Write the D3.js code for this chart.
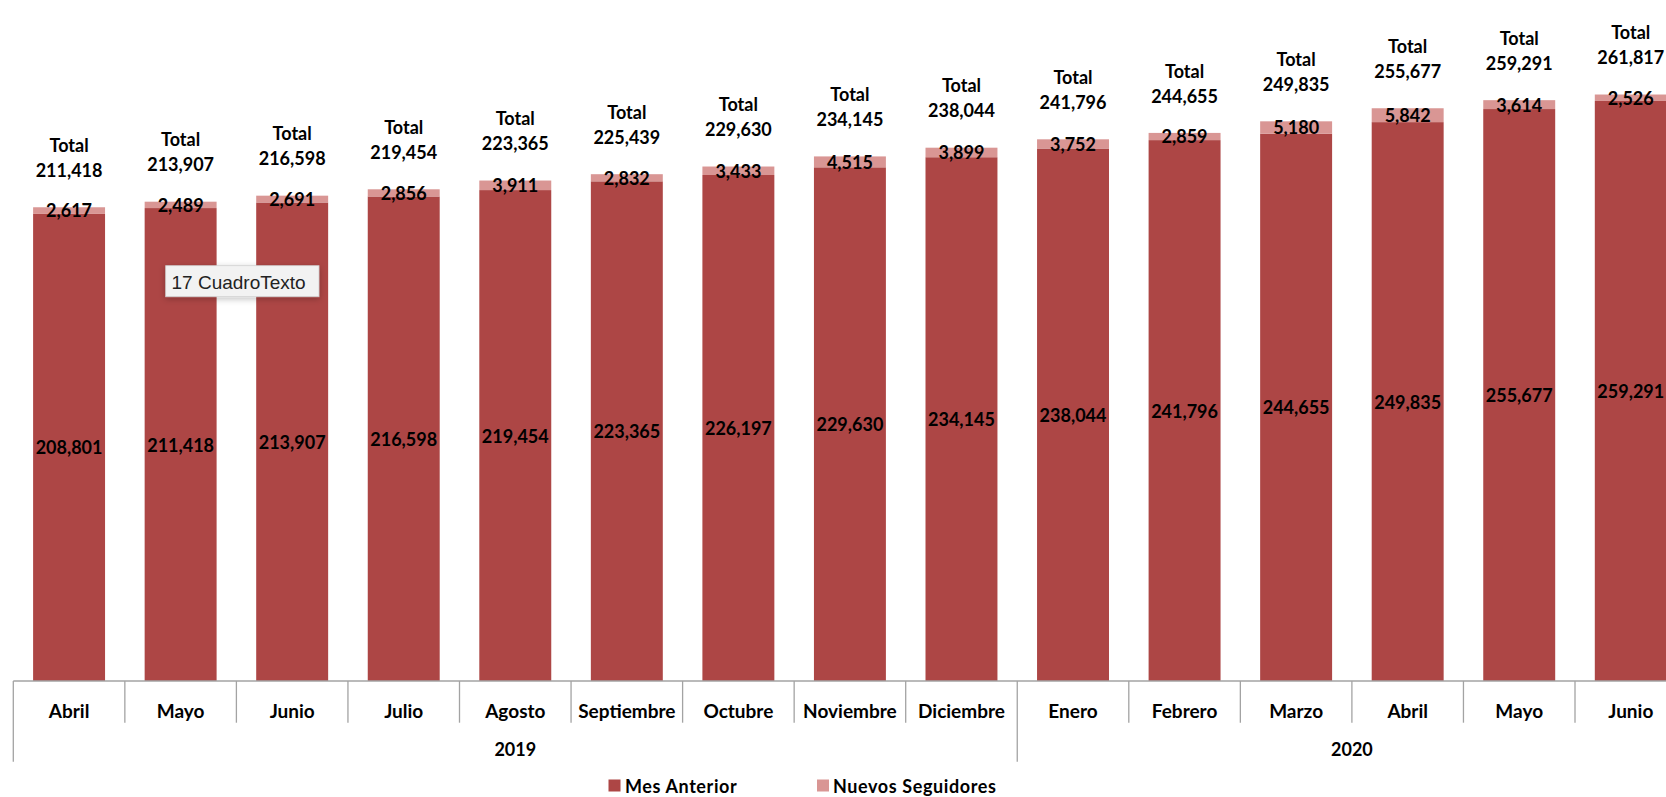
<!DOCTYPE html>
<html>
<head>
<meta charset="utf-8">
<script src="https://cdn.jsdelivr.net/npm/d3@7"></script>
<style>
  html, body { margin: 0; padding: 0; background: #fff; }
  svg { display: block; }
  text { font-family: Lato, "Open Sans", sans-serif; font-weight: 700; fill: #000; }
</style>
</head>
<body>
<svg id="chart" width="1666" height="797"></svg>
<script>
// ---- data ----
const months = ["Abril","Mayo","Junio","Julio","Agosto","Septiembre","Octubre","Noviembre","Diciembre","Enero","Febrero","Marzo","Abril","Mayo","Junio"];
const years = ["2019","2019","2019","2019","2019","2019","2019","2019","2019","2020","2020","2020","2020","2020","2020"];
const mesAnterior = [208801,211418,213907,216598,219454,223365,226197,229630,234145,238044,241796,244655,249835,255677,259291];
const nuevosSeguidores = [2617,2489,2691,2856,3911,2832,3433,4515,3899,3752,2859,5180,5842,3614,2526];
const totals = [211418,213907,216598,219454,223365,225439,229630,234145,238044,241796,244655,249835,255677,259291,261817];
const seriesNames = ["Mes Anterior","Nuevos Seguidores"];
const tooltipText = "17 CuadroTexto";

// ---- layout ----
const colDark = "#ad4645", colLight = "#d99694", axisCol = "#a3a3a3";
const svg = d3.select("#chart");
const x0 = 13.3, step = 111.55, baseY = 681;
const idx = d3.range(months.length);
const x = d3.scaleBand().domain(idx).range([x0, x0 + step * months.length])
  .paddingInner(0.355).paddingOuter(0.1775);
const y = d3.scaleLinear().domain([0, 300000]).range([baseY, baseY - 671.1]);
const fmt = d3.format(",");

// defs
const defs = svg.append("defs");
const f = defs.append("filter").attr("id","sh").attr("x","-20%").attr("y","-40%").attr("width","140%").attr("height","200%");
f.append("feDropShadow").attr("dx",0).attr("dy",2).attr("stdDeviation",3).attr("flood-color","#000").attr("flood-opacity",0.25);

const g = svg.append("g");

// bars
const stack = idx.map(i => ({i, a: mesAnterior[i], n: nuevosSeguidores[i]}));
g.selectAll("rect.dark").data(stack).join("rect").attr("class","dark")
  .attr("x", d => x(d.i)).attr("width", x.bandwidth())
  .attr("y", d => y(d.a)).attr("height", d => y(0) - y(d.a))
  .attr("fill", colDark);
g.selectAll("rect.light").data(stack).join("rect").attr("class","light")
  .attr("x", d => x(d.i)).attr("width", x.bandwidth())
  .attr("y", d => y(d.a + d.n) - 0.8).attr("height", d => y(d.a) - y(d.a + d.n) + 0.8)
  .attr("fill", colLight);

const cx = i => x(i) + x.bandwidth() / 2;

// mes anterior labels
g.selectAll("text.ma").data(stack).join("text").attr("class","ma")
  .attr("x", d => cx(d.i)).attr("y", d => (y(0) + y(d.a)) / 2)
  .attr("text-anchor","middle").attr("dominant-baseline","central")
  .style("font-size","18px").text(d => fmt(d.a));

// nuevos labels
g.selectAll("text.nv").data(stack).join("text").attr("class","nv")
  .attr("x", d => cx(d.i)).attr("y", d => (y(d.a) + y(d.a + d.n)) / 2 - 0.5)
  .attr("text-anchor","middle").attr("dominant-baseline","central")
  .style("font-size","18px").text(d => fmt(d.n));

// total labels
const tl = g.selectAll("g.tot").data(stack).join("g").attr("class","tot");
tl.append("text").attr("x", d => cx(d.i)).attr("y", d => y(d.a + d.n) - 63)
  .attr("text-anchor","middle").attr("dominant-baseline","central")
  .style("font-size","18px").text("Total");
tl.append("text").attr("x", d => cx(d.i)).attr("y", d => y(d.a + d.n) - 38)
  .attr("text-anchor","middle").attr("dominant-baseline","central")
  .style("font-size","18px").text(d => fmt(totals[d.i]));

// axis (multi-level category)
const ax = svg.append("g");
const xEnd = x0 + step * months.length;
ax.append("line").attr("x1", x0).attr("x2", xEnd).attr("y1", baseY).attr("y2", baseY)
  .attr("stroke", axisCol).attr("stroke-width", 1.3);
const bounds = d3.range(months.length + 1);
ax.selectAll("line.sep").data(bounds).join("line").attr("class","sep")
  .attr("x1", b => x0 + b * step).attr("x2", b => x0 + b * step)
  .attr("y1", baseY).attr("y2", b => (b === 0 || b === months.length || years[b] !== years[b-1]) ? 761.7 : 722.7)
  .attr("stroke", axisCol).attr("stroke-width", 1.3);
ax.selectAll("text.m").data(idx).join("text").attr("class","m")
  .attr("x", i => x0 + (i + 0.5) * step).attr("y", 710.5)
  .attr("text-anchor","middle").attr("dominant-baseline","central")
  .style("font-size","19px").text(i => months[i]);
const yearGroups = d3.groups(idx, i => years[i]);
ax.selectAll("text.yr").data(yearGroups).join("text").attr("class","yr")
  .attr("x", d => x0 + (d3.min(d[1]) + (d3.max(d[1]) + 1)) / 2 * step).attr("y", 749)
  .attr("text-anchor","middle").attr("dominant-baseline","central")
  .style("font-size","18px").text(d => d[0]);

// legend
const leg = svg.append("g");
const legItems = [{name: seriesNames[0], c: colDark, sx: 608.5, tx: 625}, {name: seriesNames[1], c: colLight, sx: 817, tx: 833}];
leg.selectAll("rect").data(legItems).join("rect")
  .attr("x", d => d.sx).attr("y", 779.5).attr("width", 12).attr("height", 12).attr("fill", d => d.c);
leg.selectAll("text").data(legItems).join("text")
  .attr("x", d => d.tx).attr("y", 785.5).attr("dominant-baseline","central")
  .style("font-size","18px").style("letter-spacing","0.6px").text(d => d.name);

// tooltip box
const tt = svg.append("g");
tt.append("rect").attr("x", 165.7).attr("y", 265.7).attr("width", 153.3).attr("height", 31)
  .attr("fill", "#f2f2f2").attr("stroke", "#cfcfcf").attr("stroke-width", 0.8).attr("filter","url(#sh)");
tt.append("text").attr("x", 171.5).attr("y", 282).attr("dominant-baseline","central")
  .style("font-family","'Liberation Sans', Arial, sans-serif").style("font-weight","400")
  .style("font-size","19px").style("fill","#222").text(tooltipText);
</script>
</body>
</html>
